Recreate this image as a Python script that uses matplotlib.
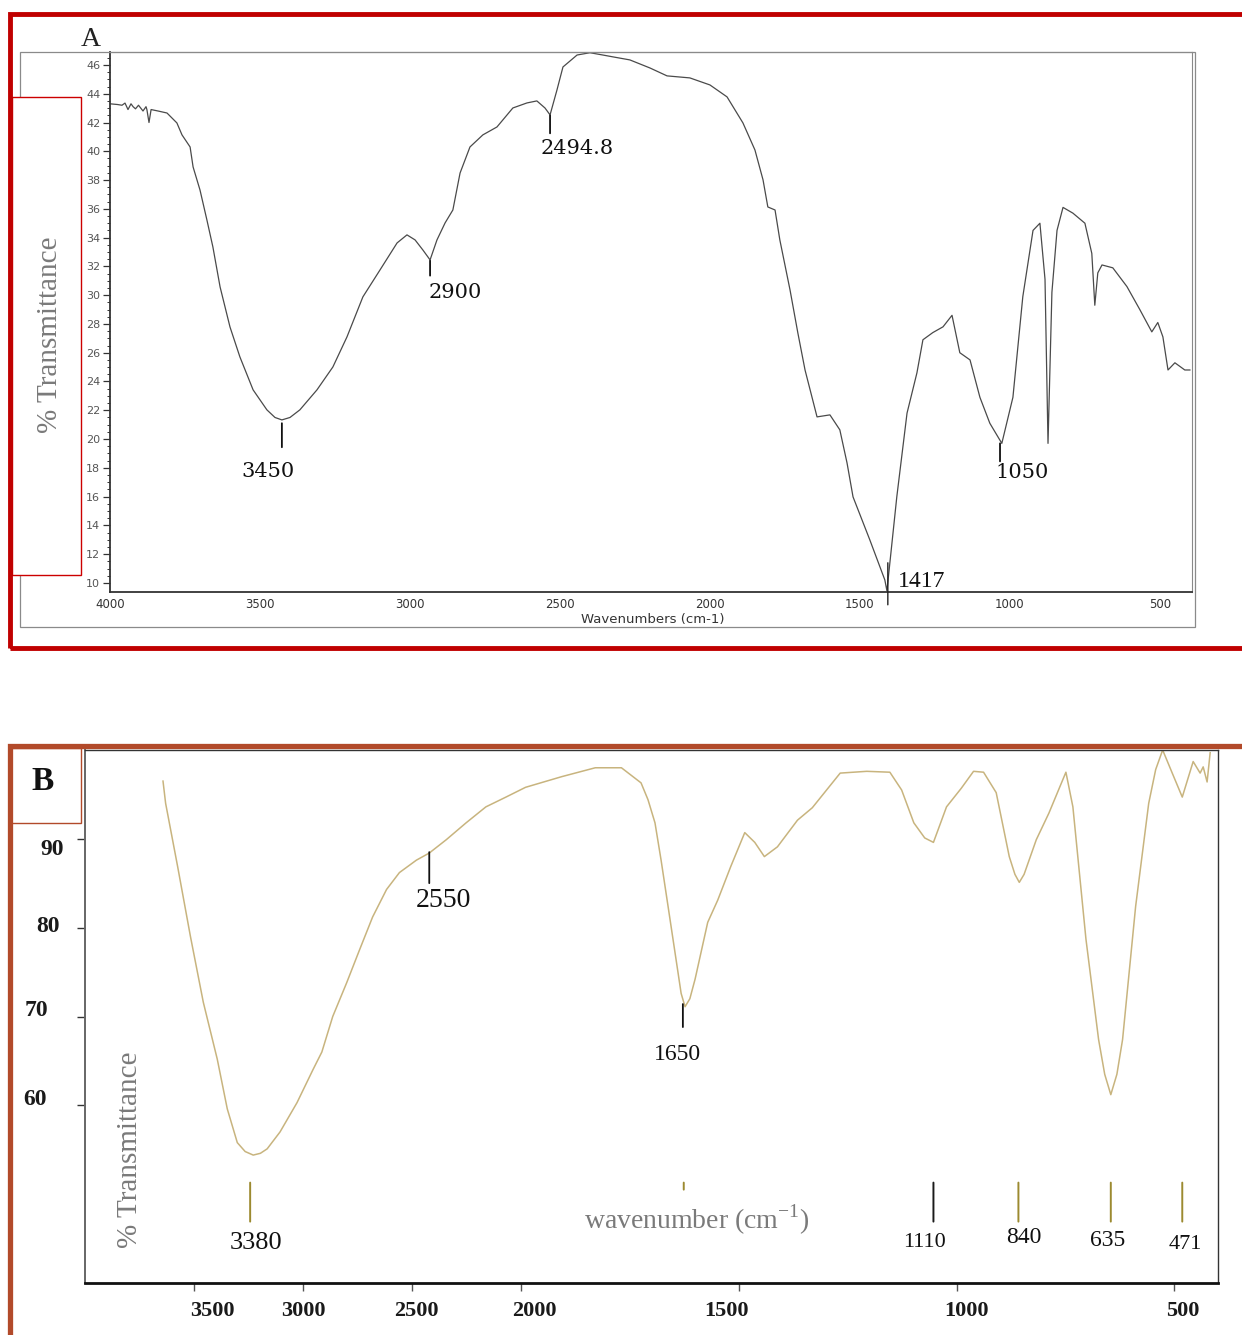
import matplotlib
matplotlib.use('Agg')
import matplotlib.pyplot as plt
from matplotlib.patches import Rectangle
from matplotlib.transforms import ScaledTranslation
import numpy as np

plt.rcParams['mathtext.fontset'] = 'custom'
plt.rcParams['mathtext.rm'] = 'Liberation Serif'

W, H = 1242, 1335  # output size in px

## Panel A : scanned FTIR spectrum (wavenumber, %T)
a_wn = [4000, 3975, 3960, 3950, 3940, 3930, 3923, 3915, 3905, 3890, 3880, 3877, 3870, 3863,
        3840, 3810, 3777, 3760, 3733, 3723, 3700, 3677, 3657, 3633, 3600, 3567, 3523, 3477,
        3450, 3427, 3400, 3367, 3310, 3257, 3210, 3157, 3100, 3043, 3010, 2983, 2957, 2933,
        2910, 2883, 2857, 2833, 2800, 2757, 2710, 2657, 2610, 2577, 2550, 2533, 2510, 2490,
        2443, 2400, 2357, 2323, 2267, 2200, 2143, 2067, 2000, 1943, 1890, 1850, 1823, 1807,
        1783, 1767, 1733, 1707, 1683, 1643, 1600, 1567, 1543, 1523, 1467, 1417, 1410, 1377,
        1343, 1310, 1290, 1257, 1223, 1193, 1167, 1133, 1100, 1067, 1027, 990, 957, 923, 900,
        883, 873, 860, 843, 823, 790, 750, 727, 717, 707, 693, 657, 610, 567, 527, 507, 490,
        473, 450, 417, 400]
a_t = [43.3, 43.25, 43.2, 43.35, 42.9, 43.3, 43.1, 42.95, 43.2, 42.8, 43.1, 42.9, 42.0, 42.9,
       42.8, 42.66, 41.97, 41.14, 40.3, 38.91, 37.31, 35.23, 33.35, 30.57, 27.79, 25.71, 23.42,
       22.03, 21.5, 21.33, 21.5, 22.03, 23.42, 25.01, 27.1, 29.88, 31.75, 33.63, 34.19, 33.84,
       33.14, 32.45, 33.84, 35.02, 35.92, 38.49, 40.3, 41.14, 41.69, 43.01, 43.36, 43.5, 43.01,
       42.53, 44.26, 45.86, 46.69, 46.85, 46.69, 46.56, 46.35, 45.79, 45.24, 45.1, 44.61, 43.78,
       41.97, 40.09, 38.01, 36.13, 35.92, 33.84, 30.36, 27.38, 24.8, 21.54, 21.68, 20.64, 18.34,
       15.98, 12.99, 10.21, 9.45, 16.0, 21.8, 24.6, 26.9, 27.4, 27.8, 28.6, 26.0, 25.5, 22.9,
       21.1, 19.7, 22.9, 29.9, 34.5, 35.0, 31.1, 19.7, 30.2, 34.5, 36.1, 35.7, 35.0, 32.9, 29.3,
       31.55, 32.1, 31.9, 30.6, 29.0, 27.45, 28.1, 27.1, 24.8, 25.3, 24.8, 24.8]
a_peak_labels = ['3450', '2900', '2494.8', '1050']
a_peak_wn = [3427, 2933, 2533, 1033]
a_peak_t = [21.1, 32.4, 42.5, 19.7]
a_min_label = '1417'
a_min_wn = 1407
a_min_t = 11.4

## Panel B : FTIR spectrum (wavenumber, %T)
b_wn = [3642, 3630, 3575, 3516, 3457, 3393, 3347, 3301, 3265, 3228, 3195, 3164, 3105, 3027,
        2954, 2913, 2863, 2799, 2740, 2680, 2616, 2557, 2479, 2420, 2342, 2251, 2160, 2068,
        1989, 1906, 1829, 1769, 1724, 1708, 1692, 1678, 1662, 1639, 1632, 1623, 1612, 1600,
        1571, 1548, 1518, 1486, 1463, 1441, 1411, 1365, 1331, 1267, 1206, 1153, 1126, 1098,
        1073, 1053, 1023, 989, 961, 938, 909, 879, 866, 856, 845, 817, 788, 749, 733, 703, 674,
        660, 646, 632, 619, 589, 559, 543, 527, 505, 482, 457, 441, 434, 425, 418]
b_t = [96.5, 94.0, 86.9, 79.0, 71.6, 65.2, 59.6, 55.8, 54.8, 54.4, 54.6, 55.1, 57.0, 60.3,
       64.0, 66.0, 70.0, 73.8, 77.5, 81.2, 84.3, 86.2, 87.6, 88.4, 89.9, 91.8, 93.6, 94.7,
       95.8, 97.0, 98.0, 98.0, 96.3, 94.4, 91.8, 87.6, 82.4, 74.9, 72.6, 71.1, 72.0, 74.2,
       80.6, 83.1, 86.9, 90.7, 89.6, 88.0, 89.1, 92.1, 93.5, 97.4, 97.6, 97.5, 95.5, 91.8,
       90.1, 89.6, 93.6, 95.7, 97.6, 97.5, 95.2, 88.0, 86.0, 85.1, 86.0, 89.9, 92.9, 97.5, 93.6,
       78.7, 67.4, 63.5, 61.2, 63.5, 67.4, 82.4, 94.0, 97.8, 100.0, 97.4, 94.7, 98.7, 97.4, 98.1,
       96.4, 99.7]
b_peak_labels = ['2550', '1650']
b_peak_wn = [2420, 1628]
b_peak_t = [88.5, 71.4]
b_band_labels = ['3380', '', '1110', '840', '635', '471']
b_band_wn = [3242, 1626, 1053, 858, 646, 482]

PT = 0.72  # points per pixel at dpi 100


def px_axes(fig, x0, y0, x1, y1):
    return fig.add_axes([x0 / W, 1 - y1 / H, (x1 - x0) / W, (y1 - y0) / H])


def px_box(fig, x0, y0, x1, y1, **kw):
    r = Rectangle((x0 / W, 1 - y1 / H), (x1 - x0) / W, (y1 - y0) / H,
                  transform=fig.transFigure, **kw)
    fig.add_artist(r)


def mark(ax, x, y, length, text, dx, dy, lcolor='k', lw=1.2, **kw):
    """ vertical marker of `length` px below (x,y) with a label centred at (dx,dy) px """
    ax.annotate('', xy=(x, y), xytext=(0, -length * PT), textcoords='offset points',
                arrowprops=dict(arrowstyle='-', color=lcolor, lw=lw, shrinkA=0, shrinkB=0),
                annotation_clip=False)
    if text:
        ax.annotate(text, xy=(x, y), xytext=(dx * PT, -dy * PT), textcoords='offset points',
                    ha='center', va='center', annotation_clip=False, **kw)


fig = plt.figure(figsize=(W / 100, H / 100), dpi=100)

## ---------------- panel A ----------------
px_box(fig, 20, 52, 1195, 627, fill=False, edgecolor='#8a8a8a', lw=0.9, zorder=0.5)
axA = px_axes(fig, 110, 52, 1192, 592)
axA.plot(a_wn, a_t, color='#4a4a4a', lw=0.9)
axA.set_xlim(4000, 393)
axA.set_ylim(9.37, 46.9)
axA.set_xticks([4000, 3500, 3000, 2500, 2000, 1500, 1000, 500])
axA.set_yticks(np.arange(10, 47, 2))
axA.set_yticks(np.arange(10, 47, 0.5), minor=True)
axA.tick_params(axis='x', length=0, pad=4.5, labelsize=8.5, labelcolor='#333')
axA.tick_params(axis='y', which='major', direction='out', length=5, width=0.9,
                pad=2, labelsize=8, labelcolor='#555', color='#333')
axA.tick_params(axis='y', which='minor', direction='out', length=2.5, width=0.7, color='#333')
for s in ['left', 'bottom']:
    axA.spines[s].set_color('#333')
    axA.spines[s].set_linewidth(1.3)
for s in ['top', 'right']:
    axA.spines[s].set_color('#888')
    axA.spines[s].set_linewidth(0.8)
for lbl, x, y, L, dx, dy in zip(a_peak_labels, a_peak_wn, a_peak_t,
                                 [24, 15, 18, 18], [-14, 25, 27, 22], [48, 32, 33, 29]):
    mark(axA, x, y, L, lbl, dx, dy, lcolor='#111', lw=1.3,
         fontsize=15, family='DejaVu Serif', color='#111')
mark(axA, a_min_wn, a_min_t, 42, a_min_label, 34, 19, lcolor='#222', lw=1.0,
     fontsize=17, family='Liberation Serif', color='#111')
fig.text(653 / W, 1 - 619 / H, 'Wavenumbers (cm-1)', ha='center', va='center',
         fontsize=9.5, color='#333')
fig.text(91 / W, 1 - 40 / H, 'A', ha='center', va='center', fontsize=20,
         family='Liberation Serif', color='#222')

# white label box with red edge over the y axis labels
px_box(fig, 12, 97, 81, 575, facecolor='white', edgecolor='#cc0000', lw=1.0, zorder=2)
fig.text(50 / W, 1 - 335 / H, '% Transmittance', rotation=90, ha='center', va='center',
         fontsize=21, family='Liberation Serif', color='#7a7a7a', zorder=3)
# red outer border
px_box(fig, 10, 14, 1260, 648, fill=False, edgecolor='#c00000', lw=3.5, zorder=3)

## ---------------- panel B ----------------
def fwd(w):
    w = np.asarray(w, dtype=float)
    return np.where(w <= 2000, w, 2000 + (w - 2000) / 2.0)


def inv(u):
    u = np.asarray(u, dtype=float)
    return np.where(u <= 2000, u, 2000 + (u - 2000) * 2.0)


axB = px_axes(fig, 85, 750, 1218, 1283)
axB.set_xscale('function', functions=(fwd, inv))
axB.plot(b_wn, b_t, color='#c8b47e', lw=1.1)
axB.set_xlim(4000, 400)
axB.set_ylim(40, 100)
axB.set_xticks([3500, 3000, 2500, 2000, 1500, 1000, 500])
axB.set_xticklabels(['3500', '3000', '2500', '2000', '1500', '1000', '500'])
axB.minorticks_off()
axB.set_yticks([60, 70, 80, 90])
axB.tick_params(axis='x', direction='out', length=6, width=1.0, pad=7,
                labelsize=16, color='#555')
axB.tick_params(axis='y', direction='out', length=6, width=1.0, pad=9,
                labelsize=17, color='#333')
for t in axB.get_xticklabels() + axB.get_yticklabels():
    t.set_family('Liberation Serif')
    t.set_weight('bold')
    t.set_color('#1a1a1a')
# the scanned tick labels sit a little off their ticks
for t, dx in zip(axB.get_xticklabels(), [18, 0, 5, 14, -12, 10, 8]):
    t.set_transform(t.get_transform() + ScaledTranslation(dx / 100, 0, fig.dpi_scale_trans))
for t, dx, dy in zip(axB.get_yticklabels(), [-17, -16, -4, 0], [8, 8, 4, -8]):
    t.set_transform(t.get_transform() + ScaledTranslation(dx / 100, dy / 100, fig.dpi_scale_trans))
axB.spines['bottom'].set_linewidth(2.0)
axB.spines['bottom'].set_color('#111')
axB.spines['left'].set_color('#666')
axB.spines['left'].set_linewidth(1.4)
for s in ['top', 'right']:
    axB.spines[s].set_color('#333')
    axB.spines[s].set_linewidth(1.0)

for lbl, x, y, L, dx, dy, fs in zip(b_peak_labels, b_peak_wn, b_peak_t,
                                     [31, 23], [14, -5], [48, 50], [20, 17]):
    mark(axB, x, y, L, lbl, dx, dy, lcolor='#111', lw=1.3,
         fontsize=fs, family='Liberation Serif', color='#111')
band_top = 51.3
band_len = [39, 7, 39, 39, 39, 39]
band_dx = [6, 0, -9, 5, -3, 3]
band_dy = [60, 0, 60, 55, 58, 62]
band_fs = [19, 10, 16, 17, 17, 16]
band_col = ['#9c8a30', '#9c8a30', '#1a1a1a', '#9c8a30', '#9c8a30', '#9c8a30']
for i, lbl in enumerate(b_band_labels):
    mark(axB, b_band_wn[i], band_top, band_len[i], lbl, band_dx[i], band_dy[i],
         lcolor=band_col[i], lw=1.4, fontsize=band_fs[i], family='Liberation Serif',
         color='#111')

axB.text(0.0397, 0.25, '% Transmittance', rotation=90, transform=axB.transAxes,
         ha='center', va='center', fontsize=21, family='Liberation Serif', color='#7a7a7a')
axB.text(0.540, 0.118, r'wavenumber (cm$^{\mathrm{-1}}$)', transform=axB.transAxes,
         ha='center', va='center', fontsize=20, family='Liberation Serif', color='#7a7a7a')

# label box "B" and brown outer border
px_box(fig, 11, 748, 81, 823, facecolor='white', edgecolor='#b24a2a', lw=1.0, zorder=2)
fig.text(43 / W, 1 - 782 / H, 'B', ha='center', va='center', fontsize=24, weight='bold',
         family='Liberation Serif', color='#111', zorder=3)
px_box(fig, 10, 746, 1260, 1360, fill=False, edgecolor='#b24a2a', lw=3.8, zorder=3)

fig.savefig('out.png', dpi=100)
